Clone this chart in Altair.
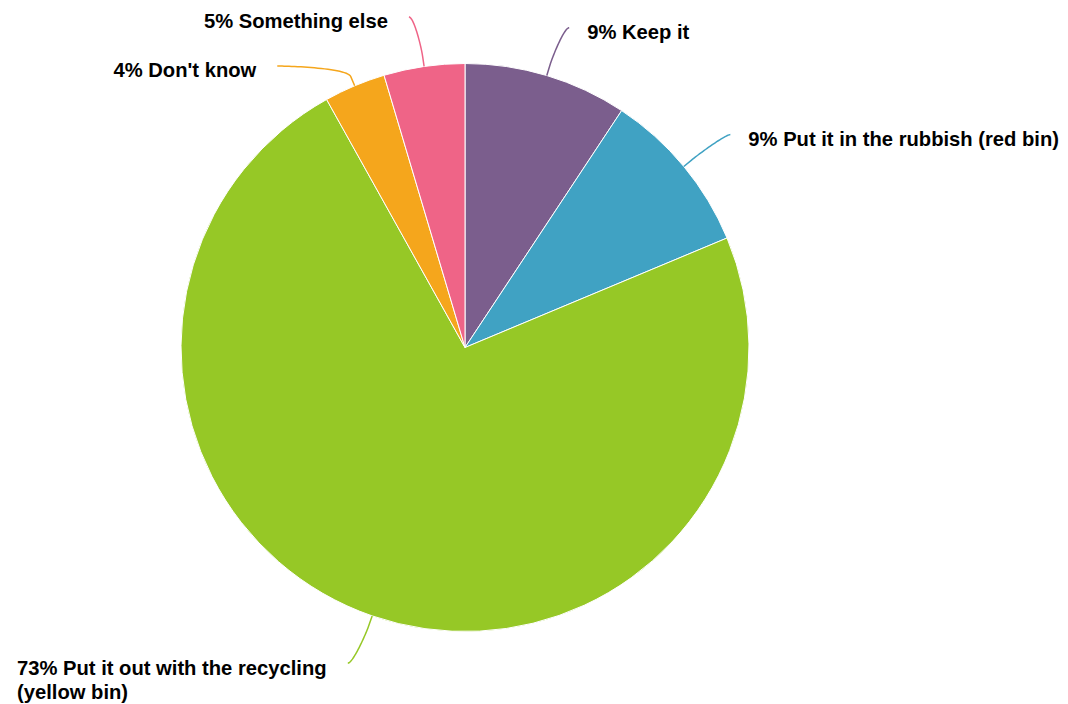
import math
import altair as alt
import pandas as pd

# ---- data ----
categories = [
    "Keep it",
    "Put it in the rubbish (red bin)",
    "Put it out with the recycling (yellow bin)",
    "Don't know",
    "Something else",
]
shares = [9.3, 9.4, 73.2, 3.5, 4.6]
colors = ["#7b5e8d", "#40a2c3", "#96c826", "#f5a61c", "#ef6487"]

# ---- layout / style ----
W, H = 1052, 696
CX, CY = 457, 339.5
R = 284
LABEL_DIST = 50
BREAK = 10
PAD = 8
FONT = 20.2
LINE_H = 24
GAP_R, GAP_L = 18, 21
MIN_SEP = 49
EDGE = 4

# approximate bold sans glyph widths (per em) for wrapping decisions
_EM = {" ": .278, "'": .238, "(": .333, ")": .333, "%": .889, ".": .278,
       "a": .556, "b": .611, "c": .556, "d": .611, "e": .556, "f": .333,
       "g": .611, "h": .611, "i": .278, "j": .278, "k": .556, "l": .278,
       "m": .889, "n": .611, "o": .611, "p": .611, "q": .611, "r": .389,
       "s": .556, "t": .333, "u": .611, "v": .556, "w": .778, "x": .556,
       "y": .556, "z": .5, "P": .667, "K": .722, "D": .722, "S": .667}


def text_w(s):
    return sum(_EM.get(ch, .556) for ch in s) * FONT


total = sum(shares)
items = []
cum = 0.0
R2 = R + LABEL_DIST
for i, (cat, v) in enumerate(zip(categories, shares)):
    a0 = cum / total * 2 * math.pi
    cum += v
    a1 = cum / total * 2 * math.pi
    mid = (a0 + a1) / 2
    s, c = math.sin(mid), -math.cos(mid)
    side = 1 if s >= 0 else -1
    items.append(dict(cat=cat, v=v, s=s, c=c, side=side,
                      y=CY + R2 * c, x=CX + R2 * s + side * PAD, moved=False))

# simple collision avoidance per side
for side in (1, -1):
    grp = sorted([it for it in items if it["side"] == side], key=lambda d: d["y"])
    for j in range(1, len(grp)):
        if grp[j]["y"] < grp[j - 1]["y"] + MIN_SEP:
            grp[j]["y"] = grp[j - 1]["y"] + MIN_SEP
            grp[j]["moved"] = True

line_rows, text_rows = [], []
for it in items:
    ey = it["y"]
    if it["moved"]:
        dy = ey - CY
        ex = CX + it["side"] * (math.sqrt(max(R2 ** 2 - dy ** 2, 0)) + PAD)
    else:
        ex = it["x"]
    tx, ty = CX + R * it["s"], CY + R * it["c"]
    bx, by = CX + (R + BREAK) * it["s"], CY + (R + BREAK) * it["c"]
    c1x, c1y = ex - it["side"] * 5, ey
    c2x, c2y = 2 * bx - tx, 2 * by - ty
    n = 30
    seq = 0
    for k in range(n + 1):
        t = k / n
        mt = 1 - t
        px = mt**3 * ex + 3 * mt**2 * t * c1x + 3 * mt * t**2 * c2x + t**3 * bx
        py = mt**3 * ey + 3 * mt**2 * t * c1y + 3 * mt * t**2 * c2y + t**3 * by
        line_rows.append(dict(category=it["cat"], seq=seq, x=px, y=py))
        seq += 1
    line_rows.append(dict(category=it["cat"], seq=seq, x=tx, y=ty))

    label = f"{int(it['v'] + 0.5)}% {it['cat']}"
    if it["side"] == 1:
        start = ex + GAP_R
        avail = W - start
    else:
        start = ex - GAP_L
        avail = start - EDGE
    if text_w(label) <= avail:
        lines = [label]
        align = "left" if it["side"] == 1 else "right"
        lx = start
    else:
        lines, cur = [], ""
        for w in label.split(" "):
            cand = (cur + " " + w).strip()
            if text_w(cand) <= avail or not cur:
                cur = cand
            else:
                lines.append(cur)
                cur = w
        lines.append(cur)
        longest = max(text_w(l) for l in lines)
        align = "left"
        lx = start if it["side"] == 1 else max(EDGE, start - longest)
    for li, txt in enumerate(lines):
        text_rows.append(dict(category=it["cat"], line=txt, x=lx,
                              y=ey + 5.5 + li * LINE_H, align=align))

pie_df = pd.DataFrame({"category": categories, "share": shares,
                       "idx": list(range(len(categories)))})
line_df = pd.DataFrame(line_rows)
text_df = pd.DataFrame(text_rows)

color_scale = alt.Scale(domain=categories, range=colors)
xs = alt.Scale(domain=[0, W], nice=False, zero=False)
ys = alt.Scale(domain=[0, H], nice=False, zero=False, reverse=True)

pie = alt.Chart(pie_df).mark_arc(outerRadius=R, stroke="white", strokeWidth=1).encode(
    theta=alt.Theta("share:Q", stack=True),
    order=alt.Order("idx:Q"),
    color=alt.Color("category:N", scale=color_scale, legend=None),
    x=alt.value(CX),
    y=alt.value(CY),
)

connectors = alt.Chart(line_df).mark_line(strokeWidth=1.5).encode(
    x=alt.X("x:Q", scale=xs, axis=None),
    y=alt.Y("y:Q", scale=ys, axis=None),
    detail="category:N",
    order="seq:Q",
    color=alt.Color("category:N", scale=color_scale, legend=None),
)


def text_layer(al):
    return alt.Chart(text_df[text_df["align"] == al]).mark_text(
        align=al, baseline="middle", font="Liberation Sans", fontSize=FONT,
        fontWeight="bold", color="#000000"
    ).encode(
        x=alt.X("x:Q", scale=xs, axis=None),
        y=alt.Y("y:Q", scale=ys, axis=None),
        text="line:N",
    )


chart = alt.layer(pie, connectors, text_layer("left"), text_layer("right")).properties(
    width=W, height=H, autosize=alt.AutoSizeParams(type="none"), padding=0
).configure_view(stroke=None)

chart.save("out.html", embed_options={"renderer": "svg", "actions": False})
